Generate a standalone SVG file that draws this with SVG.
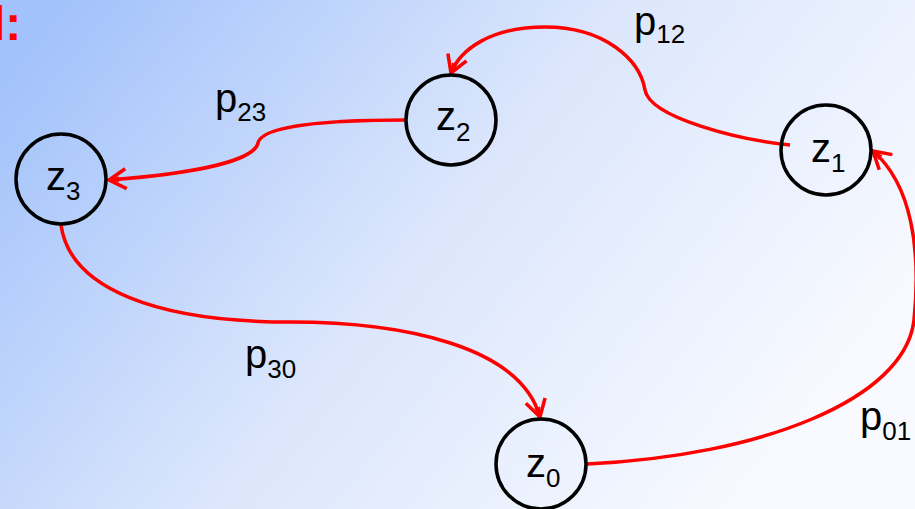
<svg xmlns="http://www.w3.org/2000/svg" width="915" height="509" viewBox="0 0 915 509">
<defs>
<linearGradient id="bg" x1="0" y1="0.15" x2="1" y2="0.6">
<stop offset="0" stop-color="#a2c2fb"/>
<stop offset="0.5" stop-color="#dbe6fc"/>
<stop offset="1" stop-color="#f8faff"/>
</linearGradient>
<marker id="arr" markerUnits="userSpaceOnUse" markerWidth="40" markerHeight="40" viewBox="-25 -20 40 40" refX="0" refY="0" orient="auto">
<path d="M-17,-10 L0,0 L-17,10" fill="none" stroke="#ff0000" stroke-width="3.5" stroke-linejoin="miter"/>
<path d="M-10,-3 L0,0 L-10,3 Z" fill="#ff0000"/>
</marker>
<style>
.node circle{fill:none;stroke:#000;stroke-width:3.5}
.lbl{font-family:"Liberation Sans",Arial,sans-serif;font-size:40px;fill:#000}
.sub{font-size:26px}
.edge{fill:none;stroke:#ff0000;stroke-width:3.5;marker-end:url(#arr)}
</style>
</defs>
<rect x="0" y="0" width="915" height="509" fill="url(#bg)"/>
<text x="-8" y="40" font-family="Liberation Sans,Arial,sans-serif" font-size="48" font-weight="bold" fill="#ff0000">l:</text>
<g id="connectors">
<path id="e12" class="edge" d="M790,145 C740,140 650,118 645,90 C640,60 605,27 545,27 C490,27 460,50 451,73"/>
<path id="e23" class="edge" d="M405,120 C330,120 262,125 258,143 C254,160 200,173 109,180"/>
<path id="e30" class="edge" d="M61,225 C70,290 160,322 290,322 C400,322 520,345 540,417"/>
<path id="e01" class="edge" d="M587,464 C760,456 905,400 914,320 C921,250 912,185 873,151"/>
</g>
<g id="z0" class="node"><circle cx="541" cy="464" r="45"/><text class="lbl" x="526" y="477">z<tspan class="sub" dy="10">0</tspan></text></g>
<g id="z1" class="node"><circle cx="826" cy="150" r="45"/><text class="lbl" x="811" y="162">z<tspan class="sub" dy="10">1</tspan></text></g>
<g id="z2" class="node"><circle cx="451" cy="120" r="45"/><text class="lbl" x="436" y="130">z<tspan class="sub" dy="11">2</tspan></text></g>
<g id="z3" class="node"><circle cx="61" cy="179" r="45"/><text class="lbl" x="46" y="190">z<tspan class="sub" dy="10">3</tspan></text></g>
<g id="labels">
<text class="lbl" x="634" y="35">p<tspan class="sub" dy="8">12</tspan></text>
<text class="lbl" x="215" y="112">p<tspan class="sub" dy="9">23</tspan></text>
<text class="lbl" x="245" y="368">p<tspan class="sub" dy="10">30</tspan></text>
<text class="lbl" x="860" y="430">p<tspan class="sub" dy="10">01</tspan></text>
</g>
</svg>
